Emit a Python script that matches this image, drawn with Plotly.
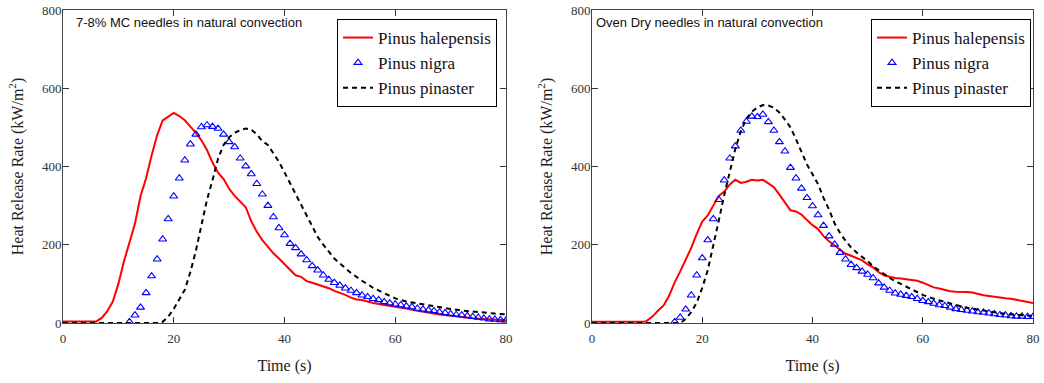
import plotly.graph_objects as go

# ---------------- data ----------------
# Left panel: 7-8% MC needles
hal_l_t = [0, 6, 7, 8, 9, 10, 11, 12, 13, 14, 15, 16, 17, 18, 19, 20, 21, 22, 23, 24, 25, 26, 27, 28, 29,
           30, 31, 32, 33, 34, 35, 36, 37, 38, 39, 40, 41, 42, 43, 44, 45, 46, 47, 48, 49, 50, 51, 52, 53,
           54, 55, 56, 58, 60, 62, 64, 66, 68, 70, 72, 74, 76, 78, 80]
hal_l_v = [4, 4, 13, 30, 55, 100, 157, 205, 254, 324, 370, 428, 480, 518, 527, 537, 529, 518, 502, 486,
           467, 442, 410, 384, 368, 343, 325, 310, 296, 260, 233, 212, 195, 178, 165, 150, 136, 122, 118,
           107, 103, 99, 94, 89, 82, 77, 72, 65, 60, 59, 54, 51, 46, 42, 37, 31, 26, 22, 19, 15, 12, 10, 8, 7]

nig_l_t = list(range(12, 81))
nig_l_v = [3, 20, 40, 77, 120, 163, 214, 266, 324, 370, 416, 457, 482, 501, 506, 502, 497, 482, 463, 450,
           421, 401, 381, 356, 329, 300, 271, 243, 225, 203, 192, 176, 161, 146, 135, 122, 111, 103, 96, 89,
           83, 77, 71, 67, 62, 59, 54, 51, 48, 46, 43, 41, 37, 35, 33, 31, 28, 26, 23, 21, 20, 18, 16, 14,
           12, 10, 9, 8, 7]

pin_l_t = [0, 17.5, 18, 19, 20, 21, 22, 23, 24, 25, 26, 27, 28, 29, 30, 31, 32, 33, 34, 35, 36, 37, 38, 39,
           40, 41, 42, 43, 44, 45, 46, 47, 48, 49, 50, 52, 54, 56, 58, 60, 62, 64, 66, 68, 70, 72, 74, 76,
           78, 80]
pin_l_v = [0, 0, 3, 16, 36, 60, 85, 130, 185, 250, 315, 365, 420, 455, 475, 486, 493, 497, 494, 482, 465,
           455, 435, 412, 385, 358, 330, 302, 273, 246, 220, 200, 182, 165, 152, 128, 108, 90, 76, 63, 55,
           50, 45, 40, 36, 32, 29, 26, 24, 22]

# Right panel: oven dry needles
hal_r_t = [0, 9.5, 10, 11, 12, 13, 14, 15, 16, 17, 18, 19, 20, 21, 22, 23, 24, 25, 26, 27, 28, 29, 30, 31,
           32, 33, 34, 35, 36, 37, 38, 39, 40, 41, 42, 43, 44, 45, 46, 47, 48, 49, 50, 51, 52, 53, 54, 55,
           56, 57, 58, 59, 60, 61, 62, 63, 64, 65, 66, 67, 68, 69, 70, 71, 72, 73, 74, 75, 76, 77, 78, 79, 80]
hal_r_v = [3, 3, 6, 17, 32, 45, 70, 104, 132, 160, 192, 228, 259, 275, 302, 325, 336, 354, 366, 358, 361,
           366, 364, 366, 357, 347, 328, 308, 288, 285, 277, 263, 250, 240, 222, 209, 198, 187, 177, 172,
           167, 160, 150, 142, 130, 122, 118, 115, 114, 112, 110, 108, 103, 96, 91, 88, 84, 81, 80, 80, 79,
           78, 74, 71, 69, 67, 64, 63, 62, 59, 56, 53, 51]

nig_r_t = list(range(15, 81))
nig_r_v = [3, 14, 35, 71, 122, 166, 212, 266, 315, 365, 421, 452, 492, 515, 528, 527, 533, 514, 492, 463,
           439, 397, 370, 344, 320, 299, 276, 249, 222, 201, 180, 163, 149, 141, 132, 124, 115, 102, 91, 83,
           76, 73, 70, 67, 62, 57, 54, 50, 46, 44, 40, 36, 34, 32, 30, 28, 27, 25, 23, 21, 20, 18, 17, 17,
           16, 16]

pin_r_t = [0, 16, 17, 18, 19, 20, 21, 22, 23, 24, 25, 26, 27, 28, 29, 30, 31, 32, 33, 34, 35, 36, 37, 38,
           39, 40, 41, 42, 43, 44, 45, 46, 47, 48, 49, 50, 51, 52, 53, 54, 55, 56, 57, 58, 59, 60, 62, 64,
           66, 68, 70, 72, 74, 76, 78, 80]
pin_r_v = [0, 0, 10, 28, 52, 90, 135, 195, 262, 328, 390, 445, 490, 522, 540, 551, 557, 556, 550, 538,
           520, 500, 470, 437, 405, 380, 355, 320, 290, 255, 230, 210, 193, 180, 170, 158, 145, 135, 124,
           115, 107, 100, 93, 86, 79, 72, 62, 53, 46, 39, 34, 29, 25, 22, 20, 18]

species = ["Pinus halepensis", "Pinus nigra", "Pinus pinaster"]
panel_notes = ["7-8% MC needles in natural convection", "Oven Dry needles in natural convection"]
x_ticks = [0, 20, 40, 60, 80]
y_ticks = [0, 200, 400, 600, 800]

# ---------------- figure ----------------
SERIF = "Liberation Serif"
fig = go.Figure()

panels = [
    ("x", "y", "legend", hal_l_t, hal_l_v, nig_l_t, nig_l_v, pin_l_t, pin_l_v),
    ("x2", "y2", "legend2", hal_r_t, hal_r_v, nig_r_t, nig_r_v, pin_r_t, pin_r_v),
]
for xa, ya, lg, ht, hv, nt, nv, pt, pv in panels:
    fig.add_trace(go.Scatter(x=ht, y=hv, mode="lines", name=species[0], xaxis=xa, yaxis=ya, legend=lg,
                             line=dict(color="#ff0000", width=2)))
    fig.add_trace(go.Scatter(x=nt, y=nv, mode="markers", name=species[1], xaxis=xa, yaxis=ya, legend=lg,
                             marker=dict(symbol="triangle-up-open", size=7, color="#0000ff",
                                         line=dict(width=1.1, color="#0000ff"))))
    fig.add_trace(go.Scatter(x=pt, y=pv, mode="lines", name=species[2], xaxis=xa, yaxis=ya, legend=lg,
                             line=dict(color="#000000", width=2, dash="5px,4px")))

# full-window figure; the page's default body margin is removed in post_script
W, H = 1044, 383
ml, mr, mt, mb = 63, 11, 10, 60
pw = W - ml - mr
ph = H - mt - mb
xd1 = [0, (506 - ml) / pw]
xd2 = [(592 - ml) / pw, 1]

axis_common = dict(
    showline=True, linecolor="#444", linewidth=1, mirror="ticks",
    ticks="inside", ticklen=6, tickcolor="#333", tickwidth=1,
    showgrid=False, zeroline=False, automargin=False, ticklabeloverflow="allow",
    tickfont=dict(family=SERIF, size=13, color="#333"),
)
xcommon = dict(axis_common, range=[0, 80], tickvals=x_ticks, ticklabelstandoff=3,
               title=dict(text="Time (s)", font=dict(family=SERIF, size=16, color="#222"), standoff=15))
ycommon = dict(axis_common, range=[0, 800], tickvals=y_ticks, ticklabelstandoff=-2,
               title=dict(text="Heat Release Rate (kW/m<sup>2</sup>)",
                          font=dict(family=SERIF, size=16, color="#222"), standoff=14))

legend_common = dict(xanchor="right", y=1 - (19 - mt) / ph, yanchor="top",
                     bgcolor="white", bordercolor="black", borderwidth=1,
                     font=dict(family=SERIF, size=17, color="#111"),
                     tracegroupgap=0, itemwidth=30)

fig.update_layout(
    width=W, height=H,
    margin=dict(l=ml, r=mr, t=mt, b=mb),
    paper_bgcolor="white", plot_bgcolor="white",
    xaxis=dict(xcommon, domain=xd1, anchor="y"),
    yaxis=dict(ycommon, domain=[0, 1], anchor="x"),
    xaxis2=dict(xcommon, domain=xd2, anchor="y2"),
    yaxis2=dict(ycommon, domain=[0, 1], anchor="x2"),
    legend=dict(legend_common, x=(497 - ml) / pw),
    legend2=dict(legend_common, x=(1031 - ml) / pw),
    annotations=[
        dict(text=panel_notes[0], xref="x domain", yref="y domain", x=0.024, y=1 - (23 - mt) / ph,
             xanchor="left", yanchor="middle", showarrow=False,
             font=dict(family="Liberation Sans", size=13, color="#111")),
        dict(text=panel_notes[1], xref="x2 domain", yref="y2 domain", x=0.005, y=1 - (23 - mt) / ph,
             xanchor="left", yanchor="middle", showarrow=False,
             font=dict(family="Liberation Sans", size=13, color="#111")),
    ],
    showlegend=True,
)

fig.write_html("out.html", config={"displayModeBar": False},
               post_script="document.body.style.margin = '0';")
